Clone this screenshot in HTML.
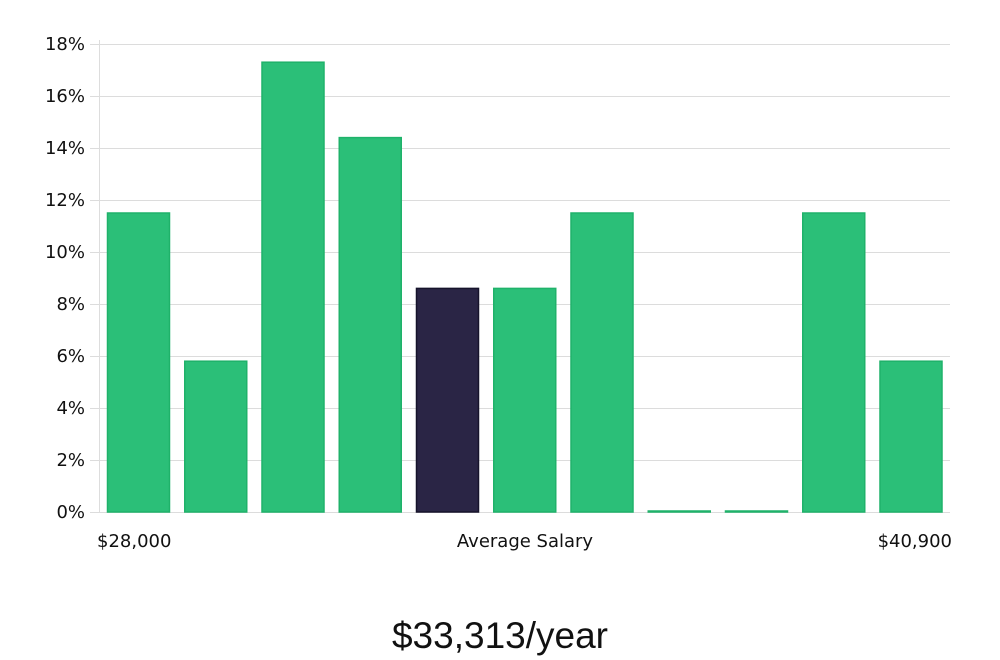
<!DOCTYPE html>
<html><head><meta charset="utf-8"><style>
html,body{margin:0;padding:0;background:#fff;width:1000px;height:660px;overflow:hidden;font-family:"DejaVu Sans","Liberation Sans",sans-serif;}
</style></head><body>
<svg id="chart" width="1000" height="660" xmlns="http://www.w3.org/2000/svg">
<g id="grid"></g>
<g id="yticks"></g>
<line x1="99.5" y1="40" x2="99.5" y2="512" stroke="#ddd"/>
<g id="bars"></g>
<text x="97" y="547" font-size="18" fill="#111">$28,000</text>
<text x="525" y="547" font-size="18" fill="#111" text-anchor="middle">Average Salary</text>
<text x="952" y="547" font-size="18" fill="#111" text-anchor="end">$40,900</text>
<text x="500" y="648" font-size="37" fill="#111" text-anchor="middle" font-family="'Liberation Sans',sans-serif" font-weight="300">$33,313/year</text>
</svg>
<script>
const categories=["b1","b2","b3","b4","b5","b6","b7","b8","b9","b10","b11"];
const values=[11.5,5.8,17.3,14.4,8.6,8.6,11.5,0,0,11.5,5.8];
const highlight=[false,false,false,false,true,false,false,false,false,false,false];
const yTicks=[0,2,4,6,8,10,12,14,16,18];
const NS="http://www.w3.org/2000/svg";
const y=v=>512-v*26;
const x=i=>138.5+i*77.25;
const grid=document.getElementById('grid'),yt=document.getElementById('yticks'),bars=document.getElementById('bars');
yTicks.forEach(t=>{
 const l=document.createElementNS(NS,'line');
 
 
 l.setAttribute('x1',90);l.setAttribute('x2',950);l.setAttribute('y1',y(t)+0.5);l.setAttribute('y2',y(t)+0.5);
 l.setAttribute('stroke','#dcdcdc');grid.appendChild(l);
 const tx=document.createElementNS(NS,'text');
 
 
 tx.setAttribute('x',85);tx.setAttribute('y',y(t)+6);tx.setAttribute('text-anchor','end');
 tx.setAttribute('font-size','18');tx.setAttribute('fill','#111');tx.textContent=t+'%';yt.appendChild(tx);
});
values.forEach((v,i)=>{
 const r=document.createElementNS(NS,'rect');
 
 
 const h=Math.max(v*26,1);
 r.setAttribute('x',x(i)-31);r.setAttribute('width',62);
 r.setAttribute('y',512-h);r.setAttribute('height',h);
 r.setAttribute('fill',highlight[i]?'#2a2545':'#2bbf78');
 r.setAttribute('stroke',highlight[i]?'#16132b':'#1fb26a');r.setAttribute('stroke-width','1.5');
 bars.appendChild(r);
});
</script>
</body></html>
